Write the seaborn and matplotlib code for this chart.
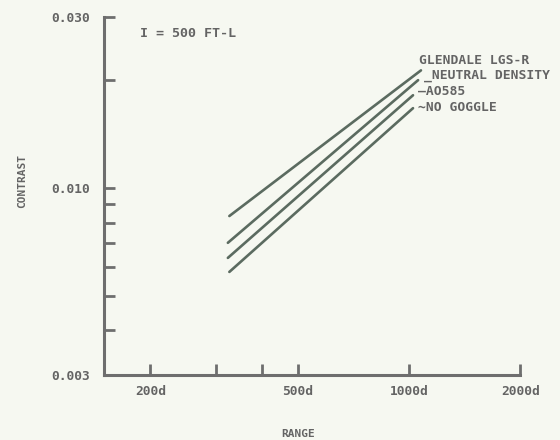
import numpy as np
import pandas as pd
import matplotlib
matplotlib.use("Agg")
import matplotlib.pyplot as plt
import seaborn as sns
from matplotlib.ticker import FixedLocator, NullFormatter

# values (start and end of each straight line)
series = ["GLENDALE LGS-R", "NEUTRAL DENSITY", "AO585", "NO GOGGLE"]
label_text = ["GLENDALE LGS-R", "_NEUTRAL DENSITY", "\u2014AO585", "~NO GOGGLE"]
range_start = [327, 324, 324, 327]
range_end = [1078, 1059, 1026, 1026]
contrast_start = [0.00834, 0.00702, 0.00637, 0.00582]
contrast_end = [0.0213, 0.0200, 0.01815, 0.0167]

x_major = [200, 500, 1000, 2000]
x_major_labels = ["200d", "500d", "1000d", "2000d"]
x_minor = [300, 400]
y_major = [0.003, 0.010, 0.030]
y_major_labels = ["0.003", "0.010", "0.030"]
y_minor = [0.004, 0.005, 0.006, 0.007, 0.008, 0.009, 0.020]

rows = []
for s, x0, x1, y0, y1 in zip(series, range_start, range_end, contrast_start, contrast_end):
    rows.append({"series": s, "range": x0, "contrast": y0})
    rows.append({"series": s, "range": x1, "contrast": y1})
df = pd.DataFrame(rows)

BG = "#f6f8f1"
LINE = "#5b6b60"
AXIS = "#6e6e6e"
TXT = "#646464"

sns.set_style("white")
plt.rcParams["font.family"] = ["DejaVu Sans Mono", "DejaVu Sans"]
plt.rcParams["font.weight"] = "bold"

fig = plt.figure(figsize=(5.6, 4.4), dpi=100, facecolor=BG)
ax = fig.add_axes([0.186, 0.148, 0.743, 0.813], facecolor=BG)

sns.lineplot(data=df, x="range", y="contrast", hue="series", hue_order=series,
             palette=[LINE] * 4, linewidth=1.9, legend=False, ax=ax, estimator=None)

ax.set_xscale("log")
ax.set_yscale("log")
ax.set_xlim(150, 2000)
ax.set_ylim(0.003, 0.030)

ax.xaxis.set_major_locator(FixedLocator(x_major))
ax.xaxis.set_minor_locator(FixedLocator(x_minor))
ax.set_xticklabels(x_major_labels)
ax.xaxis.set_minor_formatter(NullFormatter())
ax.yaxis.set_major_locator(FixedLocator(y_major))
ax.yaxis.set_minor_locator(FixedLocator(y_minor))
ax.set_yticklabels(y_major_labels)
ax.yaxis.set_minor_formatter(NullFormatter())

for side in ["top", "right"]:
    ax.spines[side].set_visible(False)
for side in ["left", "bottom"]:
    ax.spines[side].set_color(AXIS)
    ax.spines[side].set_linewidth(2.2)

ax.tick_params(which="both", direction="in", color=AXIS, width=2, length=8,
               labelcolor=TXT, labelsize=9.3, bottom=True, left=True)
ax.tick_params(axis="y", which="both", pad=10)
ax.tick_params(axis="x", which="both", pad=7)
ax.set_xlabel("")
ax.set_ylabel("")

fig.text(298 / 560, 1 - 434 / 440, "RANGE", fontsize=8, color=TXT,
         ha="center", va="center")
fig.text(22 / 560, 1 - 181 / 440, "CONTRAST", fontsize=8, color=TXT,
         rotation=90, ha="center", va="center")

ax.text(0.087, 0.955, "I = 500 FT-L", transform=ax.transAxes, fontsize=9.6,
        color=TXT, ha="left", va="center")

offsets = [(-1.5, 7), (4, 3.5), (3.5, 3), (3.5, 0.5)]
for lab, x1, y1, off in zip(label_text, range_end, contrast_end, offsets):
    ax.annotate(lab, xy=(x1, y1), xytext=off, textcoords="offset points",
                fontsize=9.4, color=TXT, ha="left", va="center",
                annotation_clip=False)

fig.savefig("out.png", dpi=100, facecolor=BG)
